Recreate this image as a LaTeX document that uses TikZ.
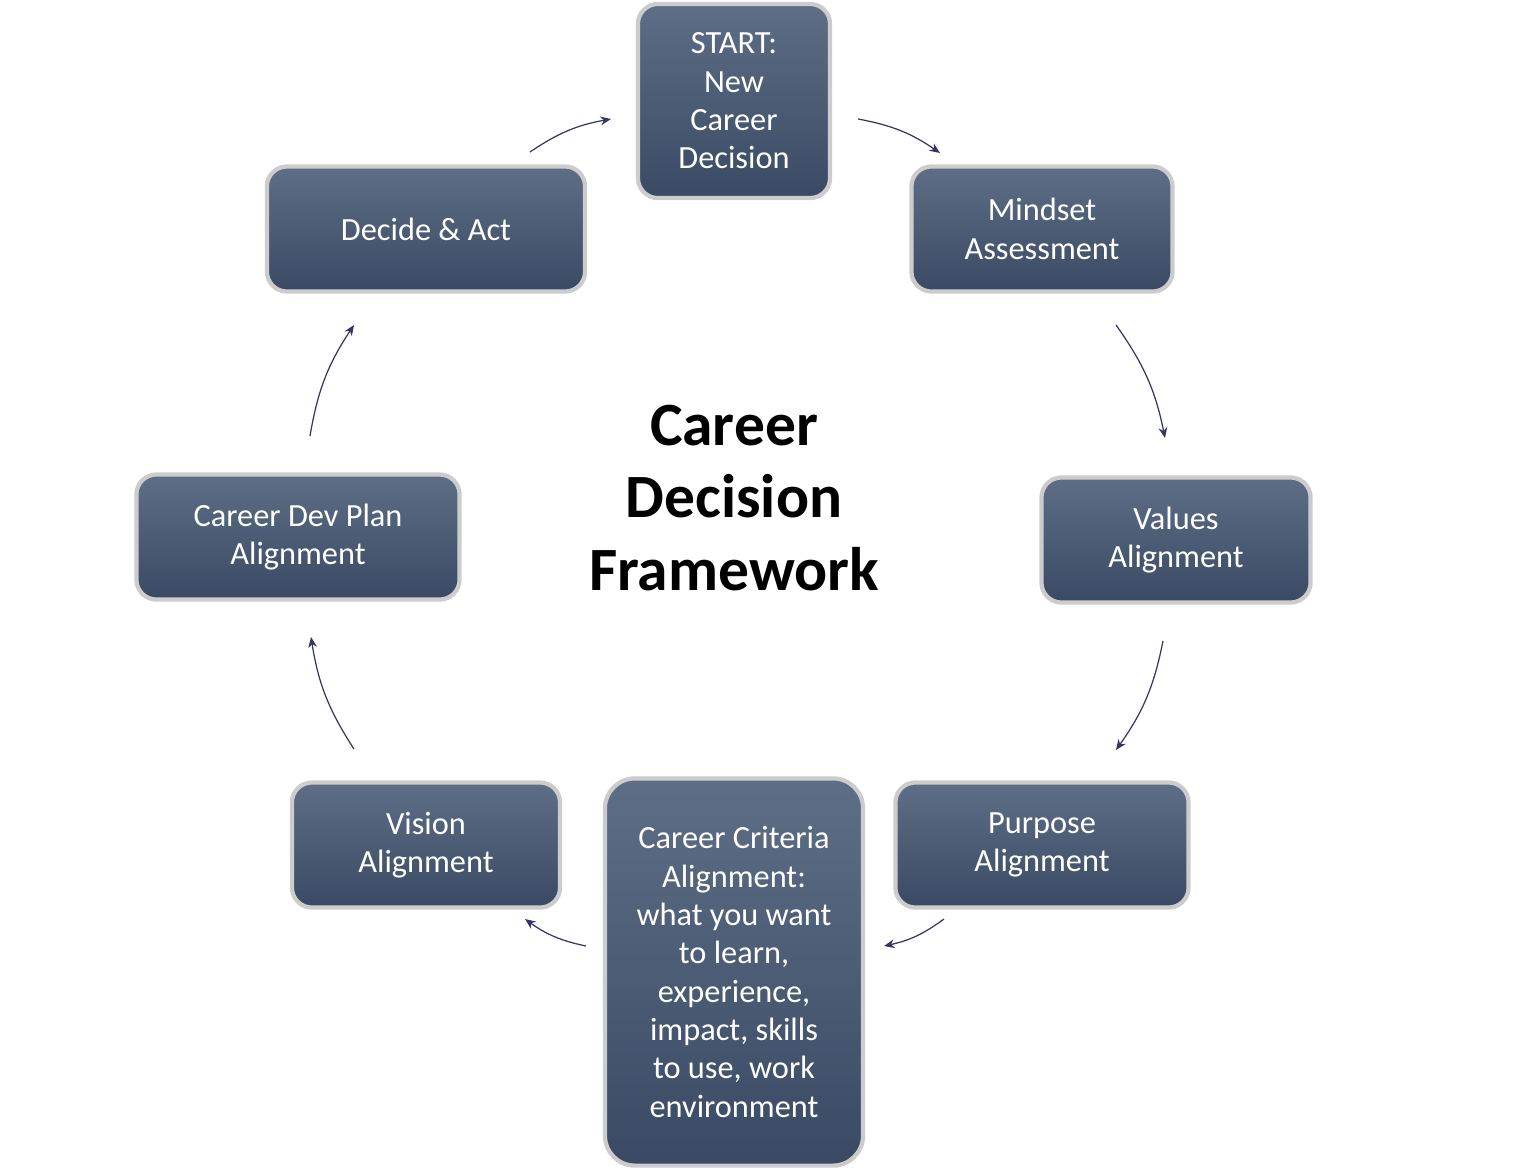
\documentclass[tikz,border=0pt]{standalone}
\usepackage{fontspec}
\setmainfont{Carlito}
\usetikzlibrary{arrows.meta}
\definecolor{boxtop}{HTML}{5E6E86}
\definecolor{boxbot}{HTML}{3A4A64}
\tikzset{
  px/.style={x=0.01cm,y=-0.01cm},
  stepbox/.style={rounded corners=0.2cm, top color=boxtop, bottom color=boxbot,
    draw=gray!40, line width=1.2pt, text=white, align=center,
    font=\fontsize{9.2}{10.9}\selectfont, inner sep=0pt},
  conn/.style={draw=gray!70!blue!60!black, line width=0.35pt, -{Stealth[length=3pt,width=2.5pt]}, bend left=12}
}
\begin{document}
\begin{tikzpicture}[px]
\useasboundingbox (0,0) rectangle (1524,1172);
\node[stepbox, minimum width=1.92cm, minimum height=1.94cm] (start) at (734,101) {START:\\New\\Career\\Decision};
\node[stepbox, minimum width=2.61cm, minimum height=1.25cm] (mind) at (1042,229) {Mindset\\Assessment};
\node[stepbox, minimum width=2.69cm, minimum height=1.25cm] (val) at (1176,540) {Values\\Alignment};
\node[stepbox, minimum width=2.93cm, minimum height=1.25cm] (purp) at (1042,845) {Purpose\\Alignment};
\node[stepbox, minimum width=2.58cm, minimum height=3.87cm, rounded corners=0.3cm] (crit) at (734,972) {Career Criteria\\Alignment:\\what you want\\to learn,\\experience,\\impact, skills\\to use, work\\environment};
\node[stepbox, minimum width=2.68cm, minimum height=1.25cm] (vis) at (426,845) {Vision\\Alignment};
\node[stepbox, minimum width=3.23cm, minimum height=1.25cm] (dev) at (298,537) {Career Dev Plan\\Alignment};
\node[stepbox, minimum width=3.18cm, minimum height=1.25cm] (dec) at (426,229) {Decide \& Act};
\node[align=center, font=\fontsize{17.5}{20.5}\selectfont\bfseries] (title) at (734,498) {Career\\Decision\\Framework};
\coordinate (a1s) at (530,152); \coordinate (a1e) at (611,119);
\coordinate (a2s) at (858,119); \coordinate (a2e) at (940,153);
\coordinate (a3s) at (1116,325); \coordinate (a3e) at (1165,438);
\coordinate (a4s) at (1163,641); \coordinate (a4e) at (1116,750);
\coordinate (a5s) at (944,919); \coordinate (a5e) at (884,946);
\coordinate (a6s) at (586,946); \coordinate (a6e) at (525,919);
\coordinate (a7s) at (354,749); \coordinate (a7e) at (311,637);
\coordinate (a8s) at (310,436); \coordinate (a8e) at (354,325);
\foreach \i in {1,...,8} { \draw[conn] (a\i s) to (a\i e); }
\end{tikzpicture}
\end{document}
